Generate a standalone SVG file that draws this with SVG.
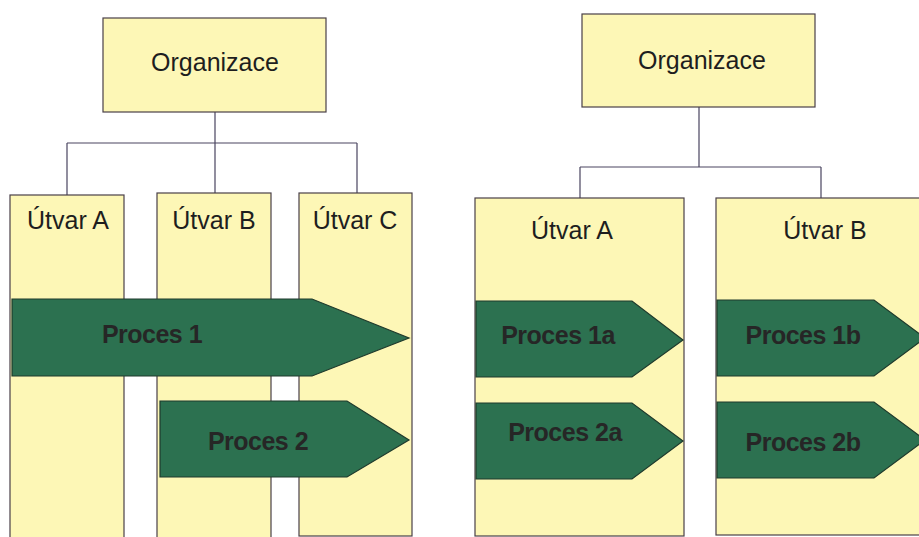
<svg xmlns="http://www.w3.org/2000/svg" width="919" height="537" viewBox="0 0 919 537">
  <style>
    .box { fill: #fdf7b6; stroke: #4a4048; stroke-width: 1.2; }
    .proc { fill: #2c7150; stroke: #1f3a2c; stroke-width: 1.2; }
    .wire { fill: none; stroke: #4a4560; stroke-width: 1.2; }
    .lbl { font-family: "Liberation Sans", Arial, sans-serif; font-size: 25px; fill: #1e1e1e; text-anchor: middle; }
    .plbl { font-family: "Liberation Sans", Arial, sans-serif; font-size: 25px; font-weight: bold; fill: #262626; text-anchor: middle; letter-spacing: -0.5px; }
  </style>
  <rect width="919" height="537" fill="#ffffff"/>

  <!-- connectors -->
  <g id="connectors">
    <path class="wire" d="M215,112 V143 M67,143 H357 M67,143 V195 M215,143 V193 M357,143 V193"/>
    <path class="wire" d="M699,107 V167 M580,167 H821 M580,167 V198 M821,167 V198"/>
  </g>

  <!-- left chart -->
  <g id="org-left">
    <rect class="box" x="103" y="18" width="223" height="94"/>
    <text class="lbl" x="215" y="71">Organizace</text>
  </g>
  <g id="left-utvar-a">
    <rect class="box" x="10" y="195" width="114" height="350"/>
    <text class="lbl" x="68" y="229">Útvar A</text>
  </g>
  <g id="left-utvar-b">
    <rect class="box" x="157" y="193" width="114" height="352"/>
    <text class="lbl" x="214" y="229">Útvar B</text>
  </g>
  <g id="left-utvar-c">
    <rect class="box" x="299" y="193" width="113" height="343"/>
    <text class="lbl" x="355" y="229">Útvar C</text>
  </g>
  <g id="proces-1">
    <polygon class="proc" points="12,299 312,299 409,338 312,376 12,376"/>
    <text class="plbl" x="152" y="343">Proces 1</text>
  </g>
  <g id="proces-2">
    <polygon class="proc" points="160,401 347,401 409,440 347,477 160,477"/>
    <text class="plbl" x="258" y="450">Proces 2</text>
  </g>

  <!-- right chart -->
  <g id="org-right">
    <rect class="box" x="582" y="14" width="233" height="93"/>
    <text class="lbl" x="702" y="69">Organizace</text>
  </g>
  <g id="right-utvar-a">
    <rect class="box" x="475" y="198" width="209" height="338"/>
    <text class="lbl" x="572" y="239">Útvar A</text>
  </g>
  <g id="right-utvar-b">
    <rect class="box" x="716" y="198" width="220" height="337"/>
    <text class="lbl" x="825" y="239">Útvar B</text>
  </g>
  <g id="proces-1a">
    <polygon class="proc" points="476,301 632,301 683,340 632,377 476,377"/>
    <text class="plbl" x="558" y="344">Proces 1a</text>
  </g>
  <g id="proces-2a">
    <polygon class="proc" points="476,403 632,403 683,441 632,479 476,479"/>
    <text class="plbl" x="565" y="441">Proces 2a</text>
  </g>
  <g id="proces-1b">
    <polygon class="proc" points="717,300 874,300 925,338 874,376 717,376"/>
    <text class="plbl" x="803" y="344">Proces 1b</text>
  </g>
  <g id="proces-2b">
    <polygon class="proc" points="717,402 874,402 925,440 874,478 717,478"/>
    <text class="plbl" x="803" y="451">Proces 2b</text>
  </g>
</svg>
